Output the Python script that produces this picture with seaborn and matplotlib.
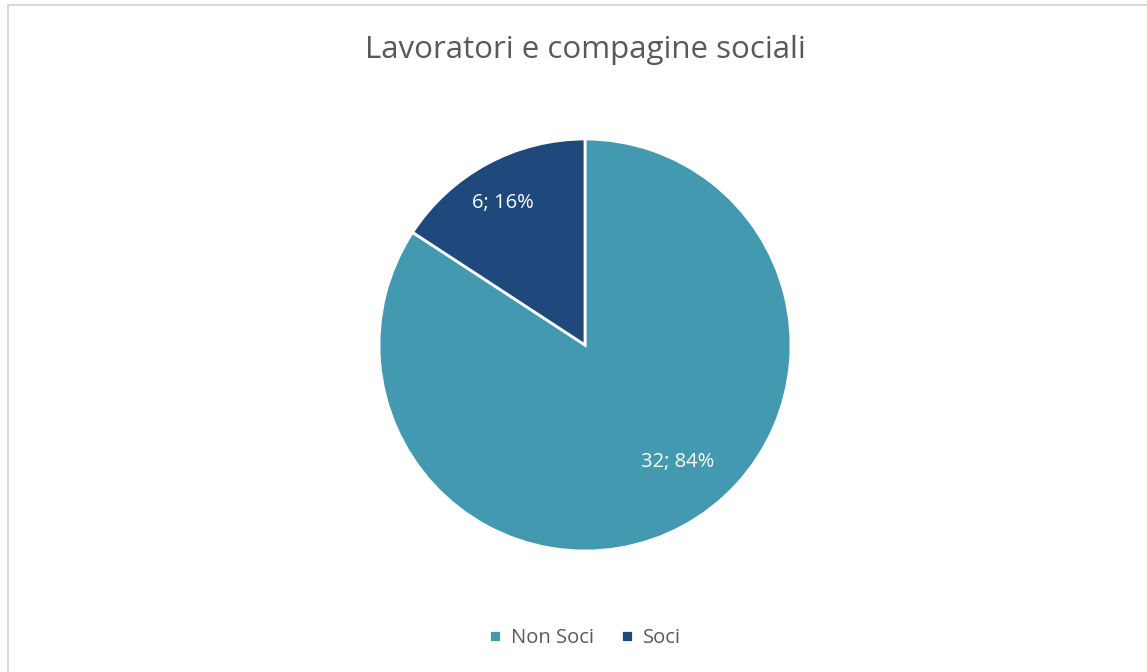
import matplotlib
matplotlib.use("Agg")
import matplotlib.pyplot as plt
import matplotlib.patches as mpatches
import seaborn as sns

categories = ["Non Soci", "Soci"]
values = [32, 6]
colors = ["#4299B0", "#1F497D"]

sns.set_theme(style="white")
plt.rcParams['font.family'] = ['Open Sans', 'DejaVu Sans']

W, H = 1147, 672
fig = plt.figure(figsize=(W / 100, H / 100), dpi=100)

# light frame like the spreadsheet chart area
fig.patches.append(mpatches.Rectangle((8 / W, -0.1), 1.2, 1 - 5 / H + 0.1,
                                      transform=fig.transFigure, fill=False,
                                      edgecolor="#D9D9D9", linewidth=1.5))

cx, cy, r = 585, 345, 206
ax = fig.add_axes([(cx - r) / W, (H - cy - r) / H, 2 * r / W, 2 * r / H])

total = sum(values)
wedges, texts, autotexts = ax.pie(
    values, colors=colors, startangle=90, counterclock=False,
    wedgeprops=dict(edgecolor="white", linewidth=2),
    autopct=lambda p: f"{round(p * total / 100)}; {p:.0f}%",
    pctdistance=0.75, textprops=dict(color="white", fontsize=14.5))
ax.set_xlim(-1, 1)
ax.set_ylim(-1, 1)
ax.set_aspect("equal")

# label placement as in the original
autotexts[0].set_position((0.45, -0.57))
autotexts[1].set_position((-0.40, 0.69))

fig.text(cx / W, 1 - 50 / H, "Lavoratori e compagine sociali", ha="center",
         va="center", fontsize=22.5, color="#595959")

fig.legend(wedges, categories, loc="center", bbox_to_anchor=(cx / W, 1 - 638 / H),
           ncol=2, frameon=False, handlelength=0.6, handleheight=0.6,
           columnspacing=1.3, handletextpad=0.5, fontsize=14.5, labelcolor="#595959")

fig.savefig("out.png", dpi=100)
